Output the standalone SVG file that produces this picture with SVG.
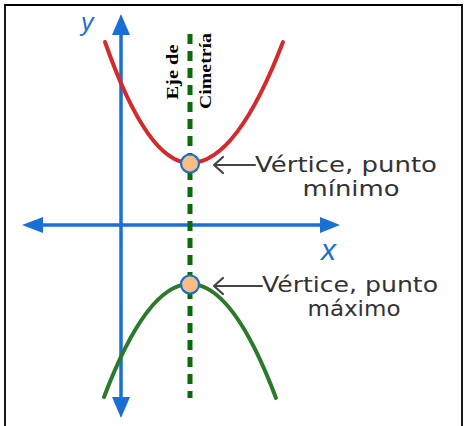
<svg xmlns="http://www.w3.org/2000/svg" width="465" height="426" viewBox="0 0 465 426">
<style>
.axis{stroke:#1a6fd4;stroke-width:3.5;fill:none}
.head{fill:#1a6fd4}
.sym{stroke:#0b6a0b;stroke-width:5;stroke-dasharray:10 7;fill:none}
.red{stroke:#d42a2a;stroke-width:4;fill:none;stroke-linecap:round}
.green{stroke:#2a7a2a;stroke-width:4;fill:none;stroke-linecap:round}
.vtx{fill:#f8bd80;stroke:#1a6fd4;stroke-width:2.2}
.ptr{stroke:#444;stroke-width:2.2;fill:none;stroke-linecap:round;stroke-linejoin:round}
.lbl{font-family:"DejaVu Sans","Liberation Sans",sans-serif;font-size:22px;fill:#333}
.ax{font-family:"Liberation Sans",Arial,sans-serif;font-style:italic;fill:#1a6fd4}
.eje{font-family:"Liberation Serif","Times New Roman",serif;font-weight:bold;font-size:17px;fill:#000}
</style>
<rect x="0" y="0" width="465" height="426" fill="#fff"/>
<path d="M5,430 V5 H462 V430" fill="none" stroke="#000" stroke-width="1.8"/>
<g id="axes">
<line class="axis" x1="121" y1="30" x2="121" y2="402"/>
<polygon class="head" points="121,14 112,35 130,35"/>
<polygon class="head" points="121,418 112,397 130,397"/>
<line class="axis" x1="38" y1="225" x2="325" y2="225"/>
<polygon class="head" points="22,225 43,217 43,233"/>
<polygon class="head" points="340,225 320,217 320,233"/>
<text class="ax" x="81" y="31" font-size="25">y</text>
<text class="ax" x="321" y="260" font-size="30">x</text>
</g>
<g id="symmetry-axis">
<line class="sym" x1="190" y1="34" x2="190" y2="398"/>
<text class="eje" transform="translate(178,72) rotate(-90)" text-anchor="middle" textLength="55" lengthAdjust="spacingAndGlyphs">Eje de</text>
<text class="eje" transform="translate(211,71) rotate(-90)" text-anchor="middle" textLength="76" lengthAdjust="spacingAndGlyphs">Cimetría</text>
</g>
<g id="parabola-up">
<path class="red" d="M105,42 Q147.5,163 190,163 Q236.5,163 283,42"/>
</g>
<g id="parabola-down">
<path class="green" d="M104,397 Q147,284 190,284 Q233,284 276,398"/>
</g>
<g id="vertex-min">
<circle class="vtx" cx="190" cy="163.5" r="9"/>
</g>
<g id="vertex-max">
<circle class="vtx" cx="190" cy="284.5" r="9"/>
</g>
<g id="connectors">
<path class="ptr" d="M255,165 H214 M223,157 L214,165 L223,173"/>
<path class="ptr" d="M262,286 H214 M223,278 L214,286 L223,294"/>
</g>
<g id="label-min">
<text class="lbl" x="255" y="172" textLength="182" lengthAdjust="spacingAndGlyphs">Vértice, punto</text>
<text class="lbl" x="351" y="196" text-anchor="middle" textLength="97" lengthAdjust="spacingAndGlyphs">mínimo</text>
</g>
<g id="label-max">
<text class="lbl" x="262" y="292" textLength="176" lengthAdjust="spacingAndGlyphs">Vértice, punto</text>
<text class="lbl" x="354" y="316" text-anchor="middle" textLength="93" lengthAdjust="spacingAndGlyphs">máximo</text>
</g>
</svg>
